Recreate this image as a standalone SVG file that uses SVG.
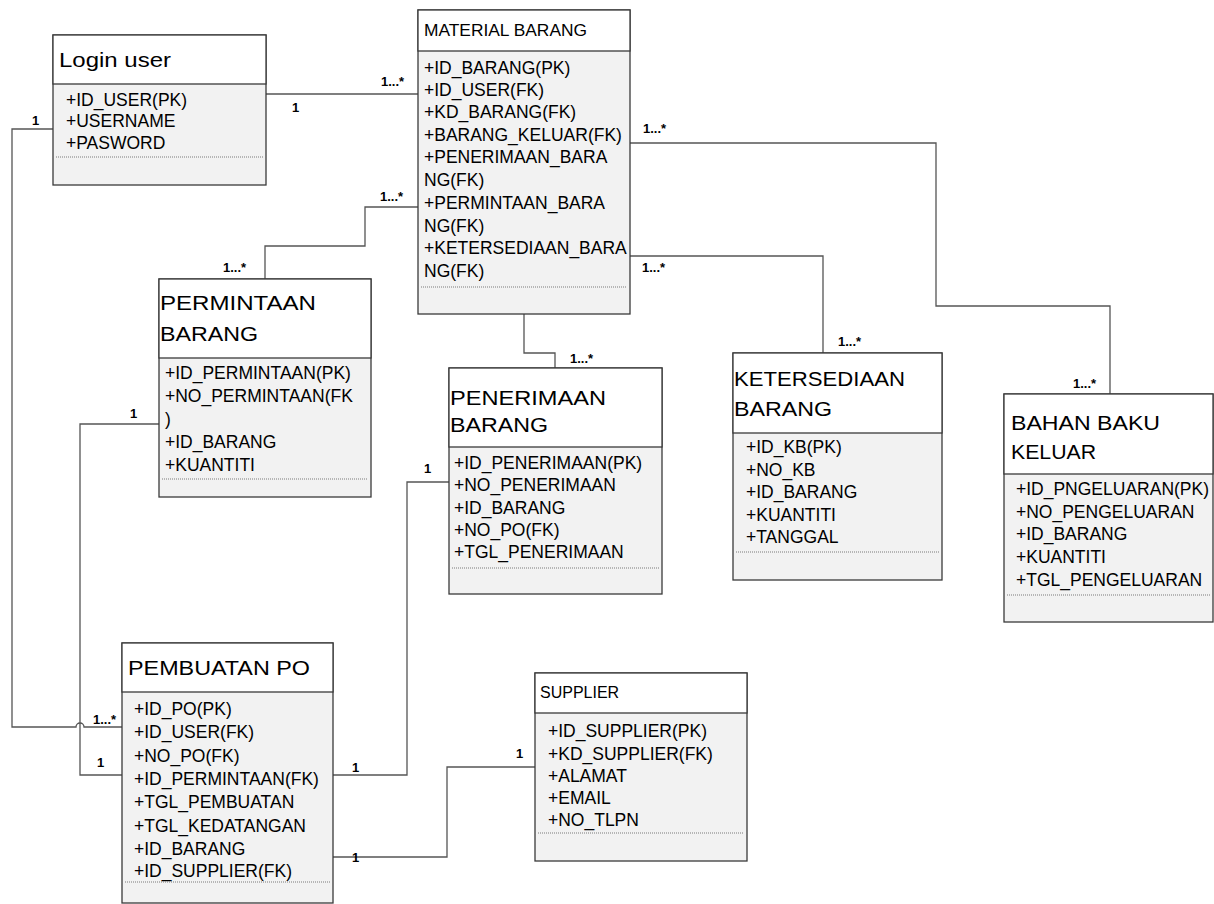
<svg xmlns="http://www.w3.org/2000/svg" width="1214" height="904" viewBox="0 0 1214 904">
<style>
  .box{fill:#f2f2f2;stroke:#3a3a3a;stroke-width:1.3}
  .hdr{fill:#ffffff;stroke:#3a3a3a;stroke-width:1.3}
  .sep{stroke:#7a7a7a;stroke-width:1;stroke-dasharray:1 1;fill:none}
  .t{font-family:"Liberation Sans",Arial,sans-serif;font-size:21px;fill:#000}
  .ts{font-family:"Liberation Sans",Arial,sans-serif;font-size:16px;fill:#000}
  .a{font-family:"Liberation Sans",Arial,sans-serif;font-size:17.5px;fill:#000}
  .c{fill:none;stroke:#555555;stroke-width:1.3}
  .m{font-family:"Liberation Sans",Arial,sans-serif;font-size:13px;font-weight:bold;fill:#000}
</style>
<rect width="1214" height="904" fill="#ffffff"/>

<g id="connectors">
  <path class="c" d="M266,94 H418"/>
  <path class="c" d="M53,129 H12 V727 H76 A4,4 0 0 1 84,727 H122"/>
  <path class="c" d="M159,424 H80 V775 H122"/>
  <path class="c" d="M418,207 H365 V246 H265 V279"/>
  <path class="c" d="M524,314 V353 H555 V368"/>
  <path class="c" d="M630,143 H936 V306 H1110 V394"/>
  <path class="c" d="M630,256 H823 V353"/>
  <path class="c" d="M333,775 H407 V482 H449"/>
  <path class="c" d="M333,857 H447 V767 H535"/>
</g>

<g id="labels">
  <text class="m" x="381" y="86">1...*</text>
  <text class="m" x="292" y="112">1</text>
  <text class="m" x="32" y="125">1</text>
  <text class="m" x="93" y="724">1...*</text>
  <text class="m" x="130" y="418">1</text>
  <text class="m" x="97" y="767">1</text>
  <text class="m" x="380" y="201">1...*</text>
  <text class="m" x="223" y="272">1...*</text>
  <text class="m" x="570" y="363">1...*</text>
  <text class="m" x="643" y="133">1...*</text>
  <text class="m" x="642" y="272">1...*</text>
  <text class="m" x="1073" y="388">1...*</text>
  <text class="m" x="838" y="346">1...*</text>
  <text class="m" x="352" y="772">1</text>
  <text class="m" x="352" y="862">1</text>
  <text class="m" x="516" y="758">1</text>
  <text class="m" x="424" y="473">1</text>
</g>

<g id="login-user">
  <rect class="box" x="53" y="35" width="213" height="150"/>
  <rect class="hdr" x="53" y="35" width="213" height="49"/>
  <text class="t" x="59" y="67" textLength="112" lengthAdjust="spacingAndGlyphs">Login user</text>
  <text class="a" x="66" y="106">+ID_USER(PK)</text>
  <text class="a" x="66" y="127">+USERNAME</text>
  <text class="a" x="66" y="149">+PASWORD</text>
  <line class="sep" x1="56" y1="157" x2="263" y2="157"/>
</g>

<g id="material-barang">
  <rect class="box" x="418" y="10" width="212" height="304"/>
  <rect class="hdr" x="418" y="10" width="212" height="41"/>
  <text class="ts" x="424" y="36" textLength="163" lengthAdjust="spacingAndGlyphs">MATERIAL BARANG</text>
  <text class="a" x="424" y="74">+ID_BARANG(PK)</text>
  <text class="a" x="424" y="96">+ID_USER(FK)</text>
  <text class="a" x="424" y="118">+KD_BARANG(FK)</text>
  <text class="a" x="424" y="141">+BARANG_KELUAR(FK)</text>
  <text class="a" x="424" y="163">+PENERIMAAN_BARA</text>
  <text class="a" x="424" y="186">NG(FK)</text>
  <text class="a" x="424" y="209">+PERMINTAAN_BARA</text>
  <text class="a" x="424" y="232">NG(FK)</text>
  <text class="a" x="424" y="254">+KETERSEDIAAN_BARA</text>
  <text class="a" x="424" y="277">NG(FK)</text>
  <line class="sep" x1="421" y1="287" x2="627" y2="287"/>
</g>

<g id="permintaan-barang">
  <rect class="box" x="159" y="279" width="212" height="218"/>
  <rect class="hdr" x="159" y="279" width="212" height="79"/>
  <text class="t" x="160" y="310" textLength="156" lengthAdjust="spacingAndGlyphs">PERMINTAAN</text>
  <text class="t" x="160" y="341" textLength="98" lengthAdjust="spacingAndGlyphs">BARANG</text>
  <text class="a" x="165" y="379">+ID_PERMINTAAN(PK)</text>
  <text class="a" x="165" y="402">+NO_PERMINTAAN(FK</text>
  <text class="a" x="165" y="425">)</text>
  <text class="a" x="165" y="448">+ID_BARANG</text>
  <text class="a" x="165" y="471">+KUANTITI</text>
  <line class="sep" x1="162" y1="479" x2="368" y2="479"/>
</g>

<g id="penerimaan-barang">
  <rect class="box" x="449" y="368" width="213" height="226"/>
  <rect class="hdr" x="449" y="368" width="213" height="79"/>
  <text class="t" x="450" y="405" textLength="156" lengthAdjust="spacingAndGlyphs">PENERIMAAN</text>
  <text class="t" x="450" y="432" textLength="98" lengthAdjust="spacingAndGlyphs">BARANG</text>
  <text class="a" x="454" y="469">+ID_PENERIMAAN(PK)</text>
  <text class="a" x="454" y="491">+NO_PENERIMAAN</text>
  <text class="a" x="454" y="514">+ID_BARANG</text>
  <text class="a" x="454" y="536">+NO_PO(FK)</text>
  <text class="a" x="454" y="558">+TGL_PENERIMAAN</text>
  <line class="sep" x1="452" y1="568" x2="659" y2="568"/>
</g>

<g id="ketersediaan-barang">
  <rect class="box" x="733" y="353" width="209" height="227"/>
  <rect class="hdr" x="733" y="353" width="209" height="80"/>
  <text class="t" x="734" y="386" textLength="171" lengthAdjust="spacingAndGlyphs">KETERSEDIAAN</text>
  <text class="t" x="734" y="416" textLength="98" lengthAdjust="spacingAndGlyphs">BARANG</text>
  <text class="a" x="746" y="453">+ID_KB(PK)</text>
  <text class="a" x="746" y="476">+NO_KB</text>
  <text class="a" x="746" y="498">+ID_BARANG</text>
  <text class="a" x="746" y="521">+KUANTITI</text>
  <text class="a" x="746" y="543">+TANGGAL</text>
  <line class="sep" x1="736" y1="552" x2="939" y2="552"/>
</g>

<g id="bahan-baku-keluar">
  <rect class="box" x="1004" y="394" width="209" height="228"/>
  <rect class="hdr" x="1004" y="394" width="209" height="80"/>
  <text class="t" x="1011" y="430" textLength="149" lengthAdjust="spacingAndGlyphs">BAHAN BAKU</text>
  <text class="t" x="1011" y="459" textLength="85" lengthAdjust="spacingAndGlyphs">KELUAR</text>
  <text class="a" x="1016" y="495">+ID_PNGELUARAN(PK)</text>
  <text class="a" x="1016" y="518">+NO_PENGELUARAN</text>
  <text class="a" x="1016" y="540">+ID_BARANG</text>
  <text class="a" x="1016" y="563">+KUANTITI</text>
  <text class="a" x="1016" y="586">+TGL_PENGELUARAN</text>
  <line class="sep" x1="1007" y1="595" x2="1211" y2="595"/>
</g>

<g id="pembuatan-po">
  <rect class="box" x="122" y="643" width="211" height="260"/>
  <rect class="hdr" x="122" y="643" width="211" height="49"/>
  <text class="t" x="128" y="675" textLength="182" lengthAdjust="spacingAndGlyphs">PEMBUATAN PO</text>
  <text class="a" x="134" y="715">+ID_PO(PK)</text>
  <text class="a" x="134" y="738">+ID_USER(FK)</text>
  <text class="a" x="134" y="762">+NO_PO(FK)</text>
  <text class="a" x="134" y="785">+ID_PERMINTAAN(FK)</text>
  <text class="a" x="134" y="808">+TGL_PEMBUATAN</text>
  <text class="a" x="134" y="832">+TGL_KEDATANGAN</text>
  <text class="a" x="134" y="855">+ID_BARANG</text>
  <text class="a" x="134" y="877">+ID_SUPPLIER(FK)</text>
  <line class="sep" x1="125" y1="882" x2="330" y2="882"/>
</g>

<g id="supplier">
  <rect class="box" x="535" y="673" width="212" height="188"/>
  <rect class="hdr" x="535" y="673" width="212" height="40"/>
  <text class="ts" x="540" y="698">SUPPLIER</text>
  <text class="a" x="548" y="737">+ID_SUPPLIER(PK)</text>
  <text class="a" x="548" y="760">+KD_SUPPLIER(FK)</text>
  <text class="a" x="548" y="782">+ALAMAT</text>
  <text class="a" x="548" y="804">+EMAIL</text>
  <text class="a" x="548" y="826">+NO_TLPN</text>
  <line class="sep" x1="538" y1="833" x2="744" y2="833"/>
</g>
</svg>
